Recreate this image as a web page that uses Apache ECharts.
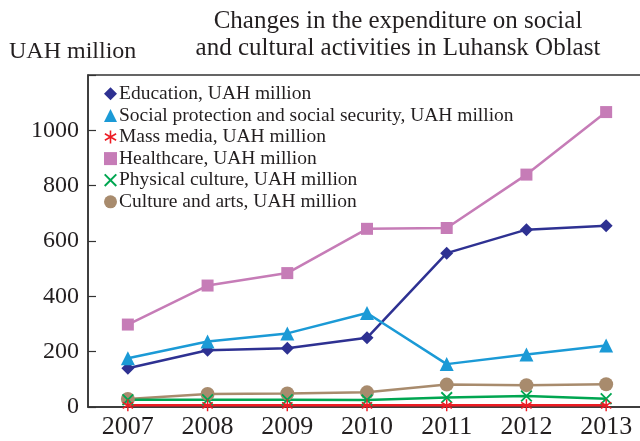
<!DOCTYPE html>
<html><head><meta charset="utf-8">
<script src="https://cdn.jsdelivr.net/npm/echarts@6/dist/echarts.min.js"></script>
<style>html,body{margin:0;padding:0;background:#fff}#c{width:640px;height:441px}</style>
</head><body><div id="c"></div>
<script>
const years = ['2007','2008','2009','2010','2011','2012','2013'];
const education = [140, 205, 212, 250, 556, 641, 655];
const socialProtection = [176, 237, 266, 340, 155, 190, 222];
const massMedia = [6, 6, 6, 6, 6, 6, 6];
const healthcare = [298, 439, 484, 644, 647, 840, 1066];
const physicalCulture = [26, 26, 26, 25, 34, 40, 30];
const cultureArts = [29, 47, 49, 53, 81, 79, 82];
const yTicks = [0, 200, 400, 600, 800, 1000];

const font = 'Liberation Serif';
const asterisk = 'path://M-1.2,-10L1.2,-10L1.2,10L-1.2,10Z M-9.26,-3.96L-8.06,-6.04L9.26,3.96L8.06,6.04Z M8.06,-6.04L9.26,-3.96L-8.06,6.04L-9.26,3.96Z';
const cross = 'path://M-7.92,-6.22L-6.22,-7.92L7.92,6.22L6.22,7.92Z M6.22,-7.92L7.92,-6.22L-6.22,7.92L-7.92,6.22Z';

const defs = [
  {name:'Education, UAH million', data:education, color:'#2e3192', symbol:'diamond', size:13},
  {name:'Social protection and social security, UAH million', data:socialProtection, color:'#1b9ad6', symbol:'triangle', size:14},
  {name:'Mass media, UAH million', data:massMedia, color:'#ed1c24', symbol:asterisk, size:12},
  {name:'Healthcare, UAH million', data:healthcare, color:'#c67cb7', symbol:'rect', size:12},
  {name:'Physical culture, UAH million', data:physicalCulture, color:'#00a651', symbol:cross, size:12},
  {name:'Culture and arts, UAH million', data:cultureArts, color:'#a88b6d', symbol:'circle', size:14}
];
const order = [0,1,3,5,4,2];

const chart = echarts.init(document.getElementById('c'), null, {renderer:'canvas'});
chart.setOption({
  animation:false,
  title:{
    text:'Changes in the expenditure on social\nand cultural activities in Luhansk Oblast',
    left:393, textAlign:'center', top:3,
    textStyle:{fontFamily:font, fontSize:25, fontWeight:'normal', color:'#231f20', lineHeight:27}
  },
  graphic:[{type:'text', left:9, top:40, style:{text:'UAH million', fontFamily:font, fontSize:24, fill:'#231f20'}}],
  legend:{
    orient:'vertical', left:99, top:78, itemGap:0, itemWidth:13, itemHeight:13,
    textStyle:{fontFamily:font, fontSize:19.5, color:'#231f20', padding:[0,0,0,-3], lineHeight:21.6},
    data: defs.map(d=>({name:d.name, icon:d.symbol})),
    selectedMode:false
  },
  grid:{left:88, top:75, width:558, bottom:34, show:true, borderColor:'#333', borderWidth:1.5,
    containLabel:false, outerBoundsMode:'none'},
  xAxis:{
    type:'category', data:years, boundaryGap:true,
    axisLine:{lineStyle:{color:'#333', width:1.5}},
    axisTick:{inside:true, length:8, lineStyle:{color:'#333', width:1.2}},
    axisLabel:{fontFamily:font, fontSize:26, color:'#231f20', margin:7}
  },
  yAxis:{
    type:'value', min:0, max:1200, interval:200,
    splitLine:{show:false},
    axisLine:{show:true, lineStyle:{color:'#333', width:1.5}},
    axisTick:{show:true, inside:true, length:8, lineStyle:{color:'#333', width:1.2}},
    axisLabel:{fontFamily:font, fontSize:24, color:'#231f20', margin:9,
      formatter:v=> yTicks.indexOf(v)>=0 ? String(v) : ''}
  },
  series: order.map(i=>{const d=defs[i]; return {
    type:'line', name:d.name, data:d.data, symbol:d.symbol, symbolSize:d.size,
    symbolKeepAspect:true,
    lineStyle:{color:d.color, width:2.5}, itemStyle:{color:d.color},
    clip:false, z: 2
  };})
});
</script></body></html>
